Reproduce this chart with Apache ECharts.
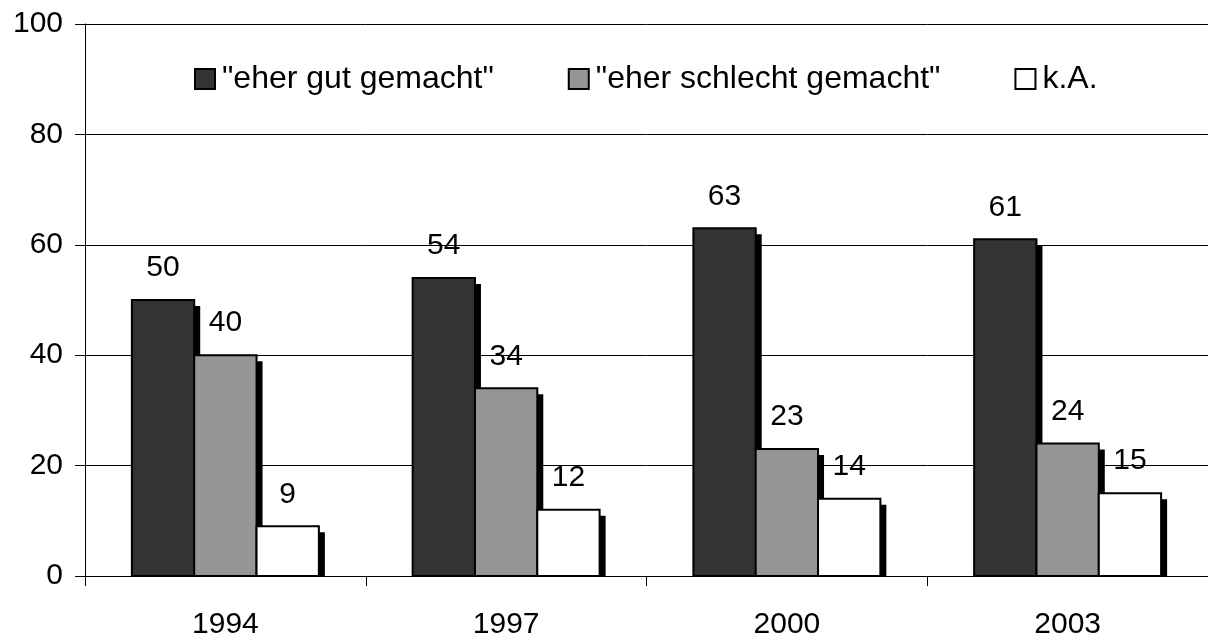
<!DOCTYPE html>
<html lang="de">
<head>
    <meta charset="UTF-8">
    <title>Umfrage</title>
    <script src="https://cdn.jsdelivr.net/npm/echarts@6/dist/echarts.min.js"></script>
    <style>
        html, body { margin: 0; padding: 0; background: #fff; }
        #main { width: 1208px; height: 640px; }
    </style>
</head>
<body>
<div id="main"></div>
<script type="text/javascript">
    const years = ['1994', '1997', '2000', '2003']
    const gut = [50, 54, 63, 61]
    const schlecht = [40, 34, 23, 24]
    const keineAngabe = [9, 12, 14, 15]
    const names = ['"eher gut gemacht"', '"eher schlecht gemacht"', 'k.A.']
    const colors = ['#333333', '#969696', '#ffffff']
    const yTicks = [0, 20, 40, 60, 80, 100]

    const font = '"Liberation Sans", Arial, sans-serif'

    // draws one bar of a group: black drop shadow, framed bar, value on top
    function barRenderer(idx) {
        return function (params, api) {
            const cat = api.value(0)
            const val = api.value(1)
            const base = api.coord([cat, 0])
            const top = api.coord([cat, val])
            const w = api.size([1, 0])[0] * 0.222
            const x = base[0] + (idx - 1.5) * w
            const h = base[1] - top[1]
            return {
                type: 'group',
                children: [
                    {
                        type: 'rect',
                        shape: { x: x + 6, y: top[1] + 6, width: w, height: Math.max(h - 6, 0) },
                        style: { fill: '#000' }
                    },
                    {
                        type: 'rect',
                        shape: { x: x, y: top[1], width: w, height: h },
                        style: { fill: colors[idx], stroke: '#000', lineWidth: 2 }
                    },
                    {
                        type: 'text',
                        style: {
                            text: String(val),
                            x: x + w / 2,
                            y: top[1] - 17,
                            align: 'center',
                            verticalAlign: 'bottom',
                            fontSize: 30,
                            fontFamily: font,
                            fill: '#000'
                        }
                    }
                ]
            }
        }
    }

    const values = [gut, schlecht, keineAngabe]

    let chart = echarts.init(document.getElementById('main'))
    chart.setOption({
        animation: false,
        backgroundColor: '#fff',
        grid: { left: 85, right: -6, top: 24, bottom: 60 },
        legend: {
            left: 189,
            top: 58,
            itemWidth: 20,
            itemHeight: 20,
            itemGap: 74,
            textStyle: { fontSize: 32, fontFamily: font, color: '#000', padding: [0, 0, 0, 2] },
            data: names.map((n, i) => ({
                name: n,
                icon: 'rect',
                itemStyle: { color: colors[i], borderColor: '#000', borderWidth: 2 }
            }))
        },
        xAxis: {
            type: 'category',
            data: years,
            axisLine: { lineStyle: { color: '#000', width: 1 } },
            axisTick: { show: true, length: 10, lineStyle: { color: '#000' } },
            axisLabel: { fontSize: 30, fontFamily: font, color: '#000', margin: 34 }
        },
        yAxis: {
            type: 'value',
            min: yTicks[0],
            max: yTicks[yTicks.length - 1],
            interval: 20,
            axisLine: { show: true, lineStyle: { color: '#000', width: 1 } },
            axisTick: { show: true, length: 10, lineStyle: { color: '#000' } },
            axisLabel: { fontSize: 30, fontFamily: font, color: '#000', margin: 22 },
            splitLine: { lineStyle: { color: '#000', width: 1 } }
        },
        series: values.map((v, i) => ({
            name: names[i],
            type: 'custom',
            renderItem: barRenderer(i),
            encode: { x: 0, y: 1 },
            itemStyle: { color: colors[i] },
            data: years.map((y, j) => [y, v[j]])
        }))
    })
</script>
</body>
</html>
